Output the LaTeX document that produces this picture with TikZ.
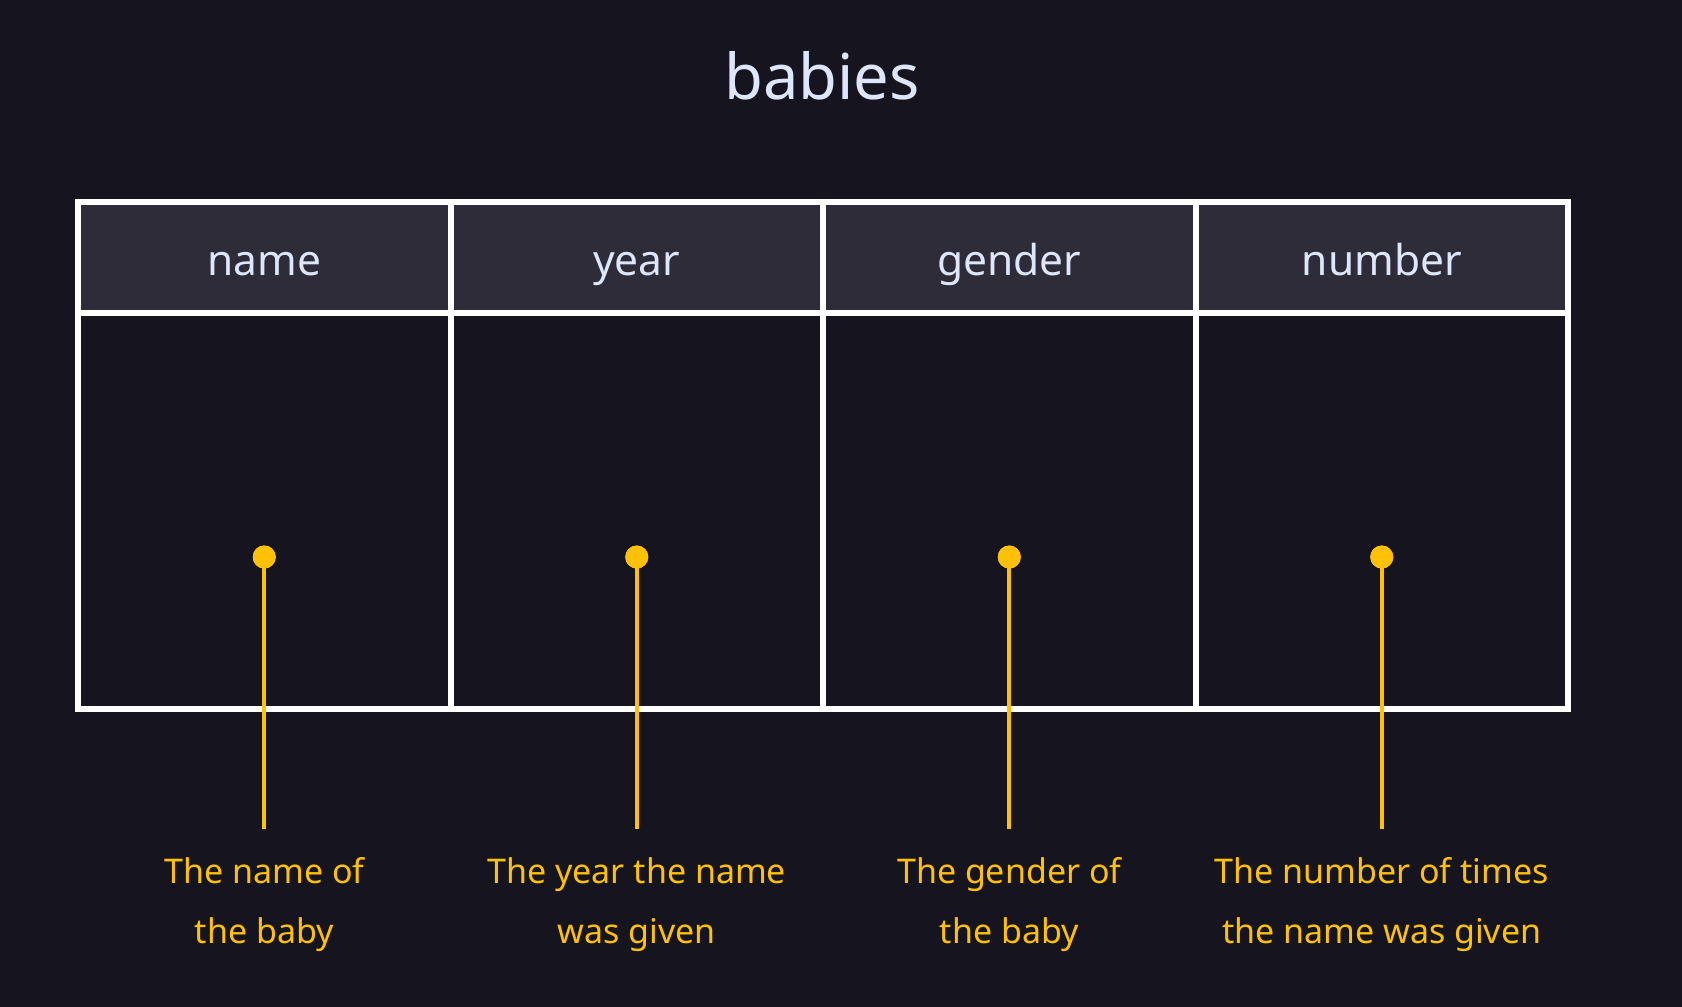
\documentclass[tikz,border=0pt]{standalone}
\usepackage{fontspec}
\setmainfont{Noto Sans}
\definecolor{bg}{HTML}{16151F}
\definecolor{headbg}{HTML}{2E2C38}
\definecolor{lighttxt}{HTML}{DDE6FB}
\definecolor{amber}{HTML}{FFC107}
\begin{document}
\begin{tikzpicture}[x=1pt,y=-1pt,
  cell/.style={draw=white,line width=6pt,minimum width=372.5pt,inner sep=0pt},
  headcell/.style={cell,fill=headbg,minimum height=111pt,text=lighttxt,text height=45pt,text depth=10pt,font=\fontsize{42.5}{50}\selectfont},
  bodycell/.style={cell,fill=bg,minimum height=396pt},
  dot/.style={circle,fill=amber,minimum size=23pt,inner sep=0pt},
  stem/.style={draw=amber,line width=4pt},
  lab/.style={text=amber,align=center,anchor=base,font=\fontsize{34}{60}\selectfont}]
\fill[bg] (0,0) rectangle (1682,1007);
\useasboundingbox (0,0) rectangle (1682,1007);
\node[text=lighttxt,anchor=base,font=\fontsize{63.2}{70}\selectfont] (title) at (822,99) {babies};
\foreach \i/\h/\la/\lb in {1/name/The name of/the baby,2/year/The year the name/was given,3/gender/The gender of/the baby,4/number/The number of times/the name was given}{
  \pgfmathsetmacro{\cx}{78+372.5*(\i-0.5)}
  \node[bodycell] (b\i) at (\cx,511) {};
  \node[headcell] (h\i) at (\cx,257.5) {\h};
  \node[dot] (d\i) at (\cx,557) {};
  \coordinate (e\i) at (\cx,829);
  \draw[stem] (d\i.center) -- (e\i);
  \node[dot] at (d\i) {};
  \node[lab] (l\i) at (\cx,943) {\la\\\lb};
}
\end{tikzpicture}
\end{document}
